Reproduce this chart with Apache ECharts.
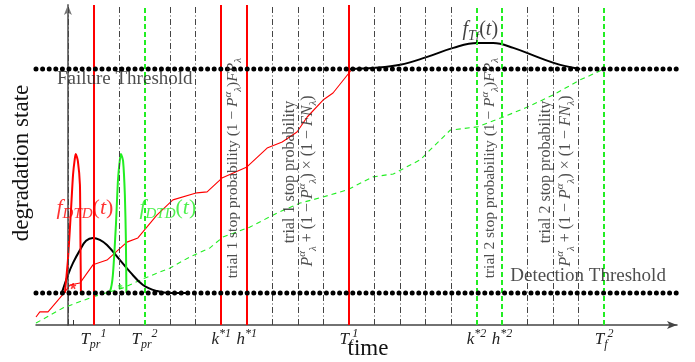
<!DOCTYPE html>
<html>
<head>
<meta charset="utf-8">
<script src="https://cdn.jsdelivr.net/npm/echarts@6/dist/echarts.min.js"></script>
<style>
  html, body { margin: 0; padding: 0; background: #fff; }
  #chart { width: 695px; height: 362px; }
</style>
</head>
<body>
<div id="chart"></div>
<script>
// time measured in inspection intervals, degradation in arbitrary units
var tMin = -1.25, tMax = 23.85;
var yMax = 10;
var detectionLevel = 1;
var failureLevel = 8;

// vertical inspection lines
var inspectTimes = [0, 2, 4, 5, 8, 9, 10, 12, 13, 14, 15, 18, 19, 20];
var redTimes = [1, 6, 7, 11];
var greenTimes = [3, 16, 17, 21];

// x tick labels
var tickTimes = [1, 3, 6, 7, 11, 16, 17, 21];
var tickLabels = [
  '{i|T}{sub|pr}{sup|1}', '{i|T}{sub|pr}{sup|2}',
  '{i|k}{sup|*1}', '{i|h}{sup|*1}', '{i|T}{sub|f}{sup|1}',
  '{i|k}{sup|*2}', '{i|h}{sup|*2}', '{i|T}{sub|f}{sup|2}'
];

// degradation paths
var redPath = [[-1.25, 0.25], [-1.1, 0.41], [-0.78, 0.41], [-0.12, 1.03], [0.08, 1.25], [0.47, 1.31],
  [0.98, 1.88], [1.53, 2.03], [2.31, 2.59], [2.74, 2.72], [3.49, 3.44], [4.11, 3.91], [5.05, 4.13],
  [5.45, 4.16], [6.03, 4.59], [7.01, 4.94], [7.8, 5.53], [8.39, 5.72], [8.97, 6.03], [9.37, 6.5],
  [9.99, 7.03], [10.38, 7.25], [11.13, 8.0]];
var greenPath = [[-1.25, 0.06], [-0.2, 0.53], [0.98, 0.88], [2.16, 1.16], [3.02, 1.47], [4.0, 1.78],
  [4.78, 2.13], [5.56, 2.41], [6.07, 2.75], [7.13, 3.06], [8.19, 3.5], [9.09, 3.81], [9.99, 4.0],
  [10.93, 4.22], [11.95, 4.63], [12.74, 4.72], [13.79, 5.16], [14.97, 6.09], [16.03, 6.19],
  [17.05, 6.5], [17.99, 6.81], [19.0, 7.19], [20.06, 7.66], [21.0, 8.0]];

// densities
var fTd = [[-0.24, 1.0], [0.0, 1.56], [0.2, 1.94], [0.47, 2.34], [0.71, 2.63], [0.98, 2.72], [1.25, 2.66],
  [1.53, 2.5], [2.04, 2.03], [2.43, 1.66], [2.94, 1.25], [3.49, 1.06], [4.0, 1.0], [4.78, 1.0]];
var fTf = [[11.05, 8.0], [11.95, 8.03], [13.01, 8.13], [14.07, 8.38], [15.09, 8.66], [16.03, 8.81],
  [16.65, 8.81], [17.44, 8.66], [18.5, 8.34], [19.28, 8.13], [20.06, 8.0]];
var fDtdRed = [[-0.12, 1.0], [0.0, 2.03], [0.12, 3.59], [0.2, 4.69], [0.27, 5.2], [0.31, 5.34],
  [0.39, 5.12], [0.47, 4.38], [0.49, 2.66], [0.51, 1.0]];
var fDtdGreen = [[1.49, 1.0], [1.65, 1.06], [1.76, 1.56], [1.88, 3.13], [1.96, 4.53], [2.04, 5.2],
  [2.08, 5.34], [2.16, 5.12], [2.23, 4.06], [2.27, 2.66], [2.29, 1.0]];
var redStar = [[0.2, 1.09]];
var greenStar = [[2.04, 1.09]];

var SERIF = '"Liberation Serif", "DejaVu Serif", serif';

function richStyles(color, size) {
  var small = Math.round(size * 0.7);
  return {
    n: { fontFamily: SERIF, fontSize: size, color: color, lineHeight: size + 6 },
    i: { fontFamily: SERIF, fontStyle: 'italic', fontSize: size, color: color, lineHeight: size + 6 },
    sub: { fontFamily: SERIF, fontStyle: 'italic', fontSize: small, color: color, verticalAlign: 'bottom', lineHeight: small + 1 },
    sup: { fontFamily: SERIF, fontStyle: 'italic', fontSize: small, color: color, verticalAlign: 'top', lineHeight: small + 1 },
    ss: { fontFamily: SERIF, fontStyle: 'italic', fontSize: Math.round(size * 0.6), color: color, verticalAlign: 'bottom', lineHeight: Math.round(size * 0.5) }
  };
}

function note(t, y, text, opts) {
  opts = opts || {};
  var size = opts.size || 15;
  var color = opts.color || '#222';
  return {
    value: [t, y],
    label: {
      show: true,
      position: [0, 0],
      formatter: text,
      rotate: opts.rotate || 0,
      align: opts.align || 'left',
      verticalAlign: 'middle',
      fontFamily: SERIF,
      fontSize: size,
      color: color,
      lineHeight: size + 6,
      rich: richStyles(color, size)
    }
  };
}

var formula = '{i|P}{sup|α}{sub|λ} + (1 − {i|P}{sup|α}{sub|λ}) × (1 − {i|FN}{sub|λ})';
var notes = [
  note(-0.43, 7.69, 'Failure Threshold', { size: 19 }),
  note(17.32, 1.53, 'Detection Threshold', { size: 19 }),
  note(-0.45, 3.66, '{i|f}{sub|DTD}{n|(}{i|t}{n|)}', { size: 22, color: '#ff0000' }),
  note(2.8, 3.66, '{i|f}{sub|DTD}{n|(}{i|t}{n|)}', { size: 22, color: '#22ee22' }),
  note(-1.3, 1.47, '{i|f}{sub|T}{ss|d}{n|(}{i|t}{n|)}', { size: 20, color: '#111' }),
  note(15.45, 9.22, '{i|f}{sub|T}{ss|f}{n|(}{i|t}{n|)}', { size: 20, color: '#111' }),
  note(6.47, 4.9, 'trial 1 stop probability (1 − {i|P}{sup|α}{sub|λ}){i|FP}{sub|λ}', { size: 15.5, rotate: 90, align: 'center' }),
  note(8.7, 4.78, 'trial 1 stop probability', { size: 16, rotate: 90, align: 'center' }),
  note(9.4, 4.5, formula, { size: 16, rotate: 90, align: 'center' }),
  note(16.54, 4.9, 'trial 2 stop probability (1 − {i|P}{sup|α}{sub|λ}){i|FP}{sub|λ}', { size: 15.5, rotate: 90, align: 'center' }),
  note(18.72, 4.78, 'trial 2 stop probability', { size: 16, rotate: 90, align: 'center' }),
  note(19.48, 4.5, formula, { size: 16, rotate: 90, align: 'center' })
];

function vLines(times, style) {
  return {
    type: 'line', data: [], silent: true, z: 2,
    markLine: {
      silent: true, symbol: ['none', 'none'], animation: false,
      label: { show: false },
      lineStyle: style,
      emphasis: { disabled: true },
      data: times.map(function (t) { return { xAxis: t }; })
    }
  };
}

function threshold(level) {
  return {
    type: 'line', data: [[tMin, level], [tMax, level]], symbol: 'none', silent: true, z: 5,
    lineStyle: { color: '#000', width: 5, type: [0, 6.6], cap: 'round' }
  };
}

function curve(data, color, width, type, smooth) {
  return {
    type: 'line', data: data, symbol: 'none', silent: true, z: 4,
    smooth: smooth || 0,
    lineStyle: { color: color, width: width, type: type || 'solid' }
  };
}

var myChart = echarts.init(document.getElementById('chart'));
var option = {
  animation: false,
  backgroundColor: '#fff',
  grid: { left: 36, right: 18, top: 5, bottom: 37 },
  xAxis: {
    type: 'value', min: tMin, max: tMax,
    splitLine: { show: false },
    axisLine: { lineStyle: { color: '#444', width: 1.5 }, symbol: ['none', 'arrow'], symbolSize: [6, 10] },
    axisTick: { show: true, inside: true, length: 5, customValues: [0.2], lineStyle: { color: '#333' } },
    axisLabel: {
      customValues: tickTimes,
      margin: 3,
      formatter: function (v) { return tickLabels[tickTimes.indexOf(v)] || ''; },
      fontFamily: SERIF, fontSize: 17, color: '#222',
      rich: richStyles('#222', 17)
    }
  },
  yAxis: {
    type: 'value', min: 0, max: yMax,
    splitLine: { show: false },
    axisLine: { show: true, lineStyle: { color: '#777', width: 2 }, symbol: ['none', 'arrow'], symbolSize: [6, 10] },
    axisTick: { show: false },
    axisLabel: { show: false }
  },
  graphic: [
    { type: 'text', x: 22, y: 163, rotation: Math.PI / 2,
      style: { text: 'degradation state', x: 0, y: 0, align: 'center', verticalAlign: 'middle', font: '23px ' + SERIF, fill: '#111' } },
    { type: 'text', x: 368, y: 349,
      style: { text: 'time', x: 0, y: 0, align: 'center', verticalAlign: 'middle', font: '23px ' + SERIF, fill: '#111' } }
  ],
  series: [
    vLines(inspectTimes, { color: '#444', width: 1, type: [6, 2.5, 1, 2.5] }),
    vLines(redTimes, { color: '#ff0000', width: 2, type: 'solid' }),
    vLines(greenTimes, { color: '#22ee22', width: 2, type: [5, 3] }),
    threshold(detectionLevel),
    threshold(failureLevel),
    curve(redPath, '#ff0000', 1.1),
    curve(greenPath, '#22ee22', 1.1, [5, 4]),
    curve(fTd, '#000', 2, 'solid', 0.4),
    curve(fTf, '#000', 2, 'solid', 0.4),
    curve(fDtdRed, '#ff0000', 2, 'solid', 0.2),
    curve(fDtdGreen, '#22ee22', 2, 'solid', 0.2),
    { type: 'scatter', data: redStar, symbolSize: 0, silent: true, z: 6,
      label: { show: true, position: [0, 0], align: 'center', verticalAlign: 'middle', formatter: '*', fontSize: 16, fontWeight: 'bold', color: '#ff0000' } },
    { type: 'scatter', data: greenStar, symbolSize: 0, silent: true, z: 6,
      label: { show: true, position: [0, 0], align: 'center', verticalAlign: 'middle', formatter: '*', fontSize: 12, fontWeight: 'bold', color: '#22ee22' } },
    { type: 'scatter', data: notes, symbolSize: 0, silent: true, z: 7 }
  ]
};
myChart.setOption(option);
window.addEventListener('resize', myChart.resize);
</script>
</body>
</html>
